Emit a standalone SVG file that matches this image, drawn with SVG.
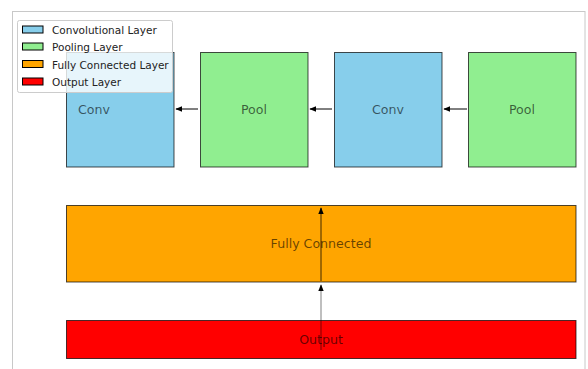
<svg xmlns="http://www.w3.org/2000/svg" width="588" height="369" viewBox="0 0 588 369">
<defs>
<style>
.box{stroke:#000;stroke-opacity:0.7;stroke-width:1}
.lbl{font-family:"DejaVu Sans",sans-serif;font-size:12.6px;fill:#000;fill-opacity:0.6;text-anchor:middle}
.leg{font-family:"DejaVu Sans",sans-serif;font-size:10.5px;fill:#222}
.conn{stroke:#000;stroke-width:1;fill:none}
</style>
<marker id="ah" viewBox="0 0 10 10" refX="9" refY="5" markerWidth="7" markerHeight="7" markerUnits="userSpaceOnUse" orient="auto">
<path d="M0,1 L10,5 L0,9 z" fill="context-stroke"/>
</marker>
</defs>
<rect x="0" y="0" width="588" height="369" fill="#fff"/>
<rect x="12.5" y="11.5" width="572.5" height="370" fill="none" stroke="#c8c8c8" stroke-width="1"/>
<g id="connectors">
<line class="conn" x1="198" y1="109" x2="176" y2="109" marker-end="url(#ah)"/>
<line class="conn" x1="332" y1="109" x2="310" y2="109" marker-end="url(#ah)"/>
<line class="conn" x1="467" y1="109" x2="444" y2="109" marker-end="url(#ah)"/>
</g>
<g id="conv1"><rect class="box" x="66.5" y="52.5" width="107.5" height="114.5" fill="#87CEEB"/><text class="lbl" x="94" y="113.5">Conv</text></g>
<g id="pool1"><rect class="box" x="200.5" y="52.5" width="107.5" height="114.5" fill="#90EE90"/><text class="lbl" x="254" y="113.5">Pool</text></g>
<g id="conv2"><rect class="box" x="334.5" y="52.5" width="107.5" height="114.5" fill="#87CEEB"/><text class="lbl" x="388" y="113.5">Conv</text></g>
<g id="pool2"><rect class="box" x="468.5" y="52.5" width="107.5" height="114.5" fill="#90EE90"/><text class="lbl" x="522" y="113.5">Pool</text></g>
<g id="fc"><rect class="box" x="66.5" y="205.5" width="509.5" height="76.5" fill="#FFA500"/><text class="lbl" x="321" y="247.5">Fully Connected</text></g>
<g id="output"><rect class="box" x="66.5" y="320.5" width="509.5" height="38" fill="#FF0000"/><text class="lbl" x="321" y="343.5">Output</text></g>
<g id="connectors-vertical">
<line class="conn" x1="321" y1="350" x2="321" y2="285" stroke-opacity="0.5" marker-end="url(#ah)"/>
<line class="conn" x1="321" y1="281" x2="321" y2="208" stroke-opacity="0.75" marker-end="url(#ah)"/>
</g>
<g id="legend">
<rect x="17.5" y="20.5" width="155" height="72" rx="2" fill="#fff" fill-opacity="0.8" stroke="#cccccc" stroke-width="1"/>
<rect x="22.5" y="26" width="20.5" height="7" fill="#87CEEB" stroke="#000" stroke-width="1"/>
<text class="leg" x="52" y="34">Convolutional Layer</text>
<rect x="22.5" y="43" width="20.5" height="7" fill="#90EE90" stroke="#000" stroke-width="1"/>
<text class="leg" x="52" y="51">Pooling Layer</text>
<rect x="22.5" y="60.5" width="20.5" height="7" fill="#FFA500" stroke="#000" stroke-width="1"/>
<text class="leg" x="52" y="68.5">Fully Connected Layer</text>
<rect x="22.5" y="78" width="20.5" height="7" fill="#FF0000" stroke="#000" stroke-width="1"/>
<text class="leg" x="52" y="86">Output Layer</text>
</g>
</svg>
